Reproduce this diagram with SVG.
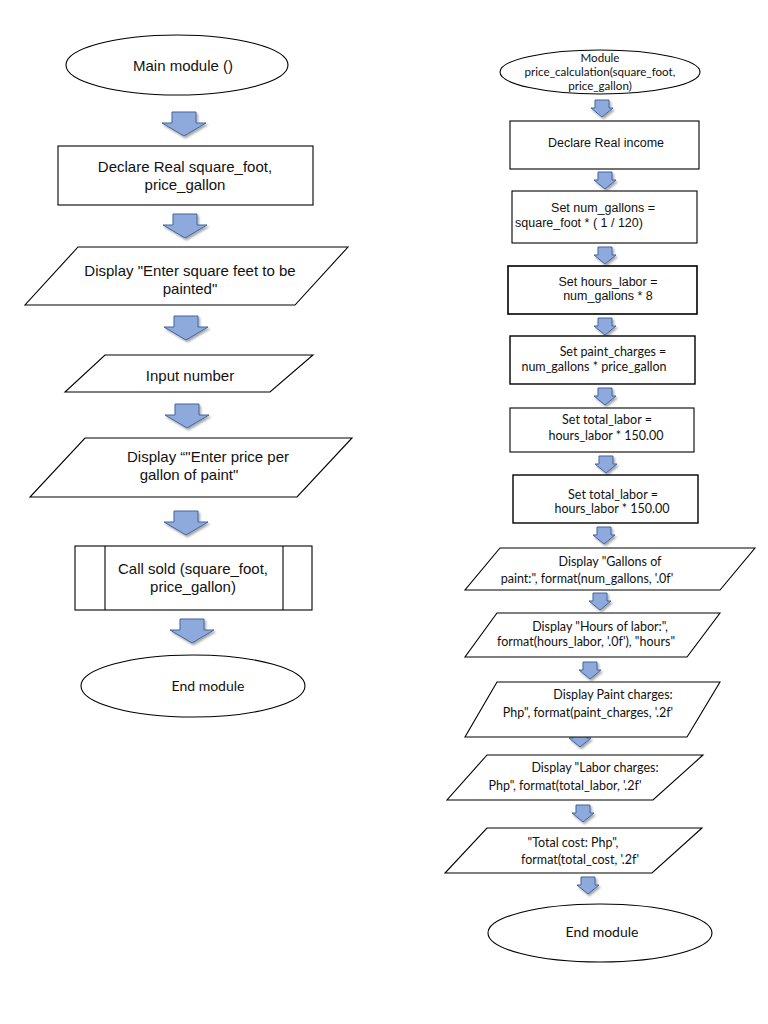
<svg xmlns="http://www.w3.org/2000/svg" width="768" height="1024" viewBox="0 0 768 1024">
<style>
.s{fill:#fff;stroke:#000;stroke-width:1.1}
.a{font-family:"Liberation Sans",Arial,sans-serif;font-size:15px;fill:#111;text-anchor:middle}
.as{font-family:"Liberation Sans",Arial,sans-serif;font-size:12.5px;fill:#111;text-anchor:middle}
.c{font-family:Lato,"Open Sans",sans-serif;font-size:12.5px;fill:#111;text-anchor:middle}
.cl{font-family:Lato,"Open Sans",sans-serif;font-size:14px;fill:#111;text-anchor:middle}
.cs{font-family:Lato,"Open Sans",sans-serif;font-size:11.6px;fill:#111;text-anchor:middle}
.ar{fill:#8eaadc;stroke:#41649c;stroke-width:1;filter:url(#sh)}
</style>
<defs>
<filter id="sh" x="-30%" y="-30%" width="160%" height="170%">
<feDropShadow dx="1.5" dy="2" stdDeviation="1.2" flood-color="#000" flood-opacity="0.35"/>
</filter>
<path id="big" d="M-12,0 H12 V11 H22 L0,24 L-22,11 H-12 Z"/>
<path id="small" d="M-7,0 H7 V8 H11 L0,17 L-11,8 H-7 Z"/>
</defs>

<g id="connectors">
<use href="#big" class="ar" x="184" y="112"/>
<use href="#big" class="ar" x="185" y="214"/>
<use href="#big" class="ar" x="186" y="316"/>
<use href="#big" class="ar" x="187" y="404"/>
<use href="#big" class="ar" x="186" y="511"/>
<use href="#big" class="ar" x="192" y="619"/>
<use href="#small" class="ar" x="602" y="100"/>
<use href="#small" class="ar" x="605" y="172"/>
<use href="#small" class="ar" x="605" y="247"/>
<use href="#small" class="ar" x="605" y="318"/>
<use href="#small" class="ar" x="605" y="388"/>
<use href="#small" class="ar" x="606" y="456"/>
<use href="#small" class="ar" x="604" y="527"/>
<use href="#small" class="ar" x="600" y="593"/>
<use href="#small" class="ar" x="590" y="662"/>
<use href="#small" class="ar" x="580" y="730"/>
<use href="#small" class="ar" x="583" y="805"/>
<use href="#small" class="ar" x="588" y="877"/>
</g>

<g id="main-start">
<ellipse class="s" cx="177" cy="65" rx="111" ry="30"/>
<text class="a" x="183" y="71">Main module ()</text>
</g>
<g id="declare-left">
<rect class="s" x="58" y="146" width="255" height="59"/>
<text class="a" x="185" y="172">Declare Real square_foot,</text>
<text class="a" x="185" y="190">price_gallon</text>
</g>
<g id="display-sqft">
<polygon class="s" points="78,247 348,247 295,305 25,305"/>
<text class="a" x="190" y="276">Display "Enter square feet to be</text>
<text class="a" x="190" y="294">painted"</text>
</g>
<g id="input-number">
<polygon class="s" points="105,355 313,355 270,392 65,392"/>
<text class="a" x="190" y="381">Input number</text>
</g>
<g id="display-price">
<polygon class="s" points="85,438 352,438 297,497 30,497"/>
<text class="a" x="208" y="462">Display “"Enter price per</text>
<text class="a" x="189" y="480">gallon of paint"</text>
</g>
<g id="call-sold">
<rect class="s" x="75" y="546" width="237" height="64"/>
<line class="s" x1="105" y1="546" x2="105" y2="610"/>
<line class="s" x1="283" y1="546" x2="283" y2="610"/>
<text class="a" x="193" y="574">Call sold (square_foot,</text>
<text class="a" x="193" y="592">price_gallon)</text>
</g>
<g id="main-end">
<ellipse class="s" cx="193" cy="686" rx="112" ry="31"/>
<text class="cl" x="208" y="691">End module</text>
</g>

<g id="module-start">
<ellipse class="s" cx="600" cy="72" rx="100" ry="22"/>
<text class="cs" x="600" y="62">Module</text>
<text class="cs" x="600" y="76">price_calculation(square_foot,</text>
<text class="cs" x="600" y="90">price_gallon)</text>
</g>
<g id="declare-income">
<rect class="s" x="510" y="121" width="189" height="48"/>
<text class="as" x="606" y="147">Declare Real income</text>
</g>
<g id="set-num-gallons">
<rect class="s" x="512" y="191" width="185" height="52"/>
<text class="as" x="603" y="212">Set num_gallons =</text>
<text class="as" x="579" y="227">square_foot * ( 1 / 120)</text>
</g>
<g id="set-hours-labor">
<rect class="s" x="508" y="266" width="189" height="48" style="stroke-width:1.6"/>
<text class="as" x="608" y="286">Set hours_labor =</text>
<text class="as" x="608" y="300">num_gallons * 8</text>
</g>
<g id="set-paint-charges">
<rect class="s" x="510" y="336" width="185" height="48" style="stroke-width:1.4"/>
<text class="c" x="613" y="356">Set paint_charges =</text>
<text class="c" x="594" y="371">num_gallons * price_gallon</text>
</g>
<g id="set-total-labor-1">
<rect class="s" x="510" y="408" width="184" height="44"/>
<text class="c" x="607" y="424">Set total_labor =</text>
<text class="c" x="606" y="440">hours_labor * 150.00</text>
</g>
<g id="set-total-labor-2">
<rect class="s" x="513" y="475" width="185" height="48" style="stroke-width:1.4"/>
<text class="c" x="613" y="499">Set total_labor =</text>
<text class="c" x="612" y="513">hours_labor * 150.00</text>
</g>
<g id="display-gallons">
<polygon class="s" points="500,548 755,548 720,590 465,590"/>
<text class="c" x="610" y="566">Display "Gallons of</text>
<text class="c" x="587" y="583">paint:", format(num_gallons, '.0f'</text>
</g>
<g id="display-hours">
<polygon class="s" points="497,613 720,613 687,657 465,657"/>
<text class="c" x="600" y="631">Display "Hours of labor:",</text>
<text class="c" x="586" y="646">format(hours_labor, '.0f'), "hours"</text>
</g>
<g id="display-paint-charges">
<polygon class="s" points="497,682 720,682 687,737 465,737"/>
<text class="c" x="613" y="699">Display Paint charges:</text>
<text class="c" x="588" y="717">Php", format(paint_charges, '.2f'</text>
</g>
<g id="display-labor-charges">
<polygon class="s" points="487,755 703,755 653,800 447,800"/>
<text class="c" x="595" y="772">Display "Labor charges:</text>
<text class="c" x="565" y="790">Php", format(total_labor, '.2f'</text>
</g>
<g id="display-total-cost">
<polygon class="s" points="487,828 702,828 652,873 445,873"/>
<text class="c" x="573" y="847">"Total cost: Php",</text>
<text class="c" x="580" y="864">format(total_cost, '.2f'</text>
</g>
<g id="module-end">
<ellipse class="s" cx="600" cy="933" rx="112" ry="29"/>
<text class="cl" x="602" y="937">End module</text>
</g>
</svg>
